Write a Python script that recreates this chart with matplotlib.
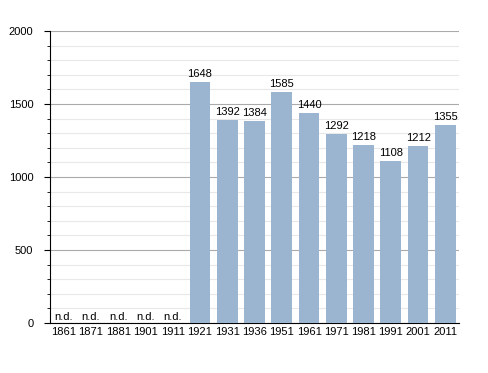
import matplotlib
matplotlib.use('Agg')
import matplotlib.pyplot as plt
import numpy as np

plt.rcParams['font.family'] = ['Liberation Sans', 'DejaVu Sans']

# census years and population (None = no data)
years = ['1861', '1871', '1881', '1901', '1911', '1921', '1931', '1936',
         '1951', '1961', '1971', '1981', '1991', '2001', '2011']
population = [None, None, None, None, None, 1648, 1392, 1384,
              1585, 1440, 1292, 1218, 1108, 1212, 1355]

fig = plt.figure(figsize=(4.88, 3.73), dpi=100)
ax = fig.add_axes([50/488, 50/373, 409/488, 292/373])

x = np.arange(len(years))
heights = [v if v is not None else 0 for v in population]
ax.bar(x, heights, width=0.76, color='#9bb4d0', zorder=3)

for xi, v in zip(x, population):
    if v is None:
        ax.text(xi, 8, 'n.d.', ha='center', va='bottom', fontsize=8, zorder=4)
    else:
        ax.text(xi, v + 20, str(v), ha='center', va='bottom', fontsize=8, zorder=4)

ax.set_xlim(-0.5, len(years) - 0.5)
ax.set_ylim(0, 2000)
ax.set_xticks(x)
ax.set_xticklabels(years)
ax.set_yticks(np.arange(0, 2001, 500))
ax.set_yticks(np.arange(0, 2001, 100), minor=True)

ax.grid(axis='y', which='major', color='#aaaaaa', linewidth=0.8, zorder=0)
ax.grid(axis='y', which='minor', color='#e8e8e8', linewidth=0.8, zorder=0)

for s in ['top', 'right']:
    ax.spines[s].set_visible(False)
ax.spines['left'].set_linewidth(0.8)
ax.spines['bottom'].set_linewidth(0.8)

ax.tick_params(axis='x', length=0, labelsize=8, pad=3)
ax.tick_params(axis='y', which='major', length=4, labelsize=8, pad=8)
ax.tick_params(axis='y', which='minor', length=2.5)

fig.savefig('out.png', dpi=100)
